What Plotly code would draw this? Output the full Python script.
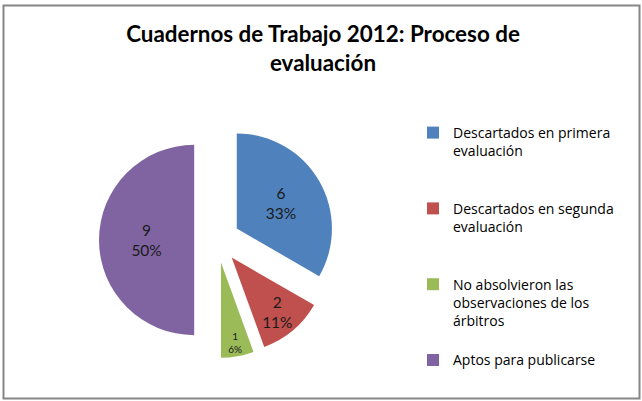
import plotly.graph_objects as go

labels = [
    "Descartados en primera<br>evaluación<br> <br> ",
    "Descartados en segunda<br>evaluación<br> <br> ",
    "No absolvieron las<br>observaciones de los<br>árbitros<br> ",
    "Aptos para publicarse",
]
values = [6, 2, 1, 9]
colors = ["#4F81BD", "#C0504D", "#9BBB59", "#8064A2"]
title_text = "Cuadernos de Trabajo 2012: Proceso de<br>evaluación"

W, H = 642, 401
FONT = "Lato, Carlito, Calibri, sans-serif"
LFONT = "Open Sans, Lato, sans-serif"

fig = go.Figure(go.Pie(
    labels=labels,
    values=values,
    sort=False,
    direction="clockwise",
    rotation=0,
    pull=[0.24, 0.24, 0.24, 0.24],
    marker=dict(colors=colors, line=dict(width=0)),
    texttemplate="%{value}<br>%{percent:.0%}",
    textposition="inside",
    insidetextorientation="horizontal",
    textfont=dict(family=FONT, size=15.5, color="#1a1a1a"),
    hoverinfo="label+value+percent",
    domain=dict(x=[99 / W, 335 / W], y=[1 - 358 / H, 1 - 122 / H]),
))

fig.update_layout(
    width=W, height=H,
    margin=dict(l=0, r=0, t=0, b=0),
    paper_bgcolor="white",
    plot_bgcolor="white",
    title=dict(text=title_text, x=323 / W, xanchor="center",
               y=1 - 42 / H, yanchor="top",
               font=dict(family=FONT, size=22.4, color="#000000", weight="bold")),
    legend=dict(x=413 / W, xanchor="left", y=1 - 117 / H, yanchor="top",
                valign="top", font=dict(family=LFONT, size=14, color="#000000"),
                bgcolor="rgba(0,0,0,0)", itemclick=False),
    shapes=[dict(type="rect", xref="paper", yref="paper",
                 x0=3.5 / W, x1=639.5 / W, y0=1 - 398.5 / H, y1=1 - 5.5 / H,
                 line=dict(color="#868686", width=2))],
)

fig.write_html("out.html",
               config={"displayModeBar": False},
               post_script="document.body.style.margin='0';document.body.style.padding='0';")
